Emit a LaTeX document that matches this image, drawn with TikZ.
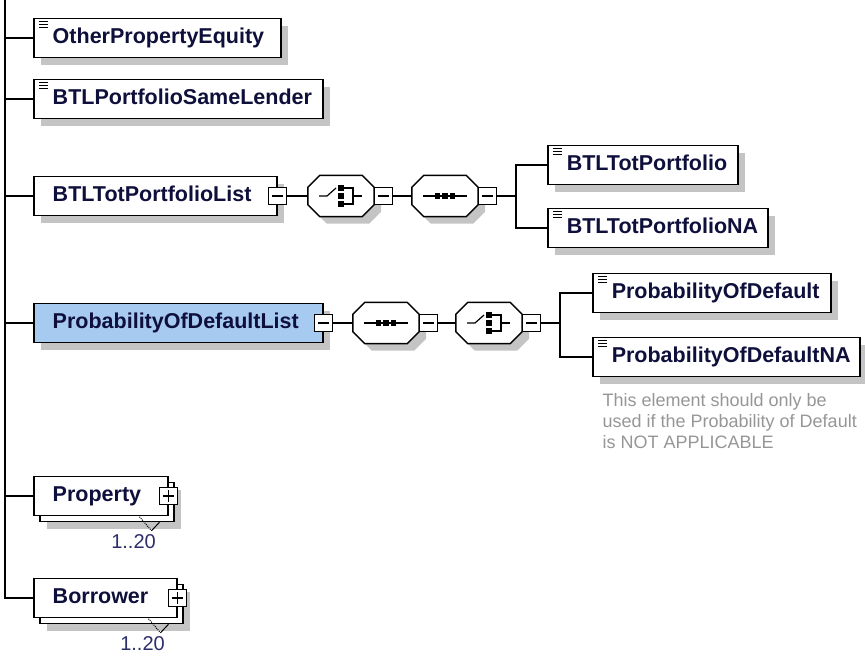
\documentclass[tikz,border=0pt]{standalone}
\usepackage{fontspec}
\setmainfont{Liberation Sans}
\usetikzlibrary{positioning}
\usetikzlibrary{shadows}
\definecolor{navy}{RGB}{15,15,60}
\definecolor{selblue}{RGB}{166,202,240}
\definecolor{occblue}{RGB}{45,45,105}
\definecolor{shadegray}{RGB}{196,196,196}
\definecolor{notegray}{RGB}{150,150,150}
\newcommand{\octpath}[1]{([xshift=12pt]#1.north west) -- ([xshift=-12pt]#1.north east)
	-- ([yshift=-12pt]#1.north east) -- ([yshift=12pt]#1.south east)
	-- ([xshift=-12pt]#1.south east) -- ([xshift=12pt]#1.south west)
	-- ([yshift=12pt]#1.south west) -- ([yshift=-12pt]#1.north west) -- cycle}
\newcommand{\octo}[1]{%
	\fill[shadegray,transform canvas={xshift=7pt,yshift=-7pt}] \octpath{#1};
	\draw[fill=white,line width=1.4pt] \octpath{#1};}
\newcommand{\seqsym}[1]{%
	\begin{scope}[shift={(#1.center)}]
		\draw[line width=1.2pt] (-22,0) -- (22,0);
		\foreach \s in {-7.5,0,7.5} \fill[black] (\s-2.8,-2.8) rectangle (\s+2.8,2.8);
	\end{scope}}
\newcommand{\choicesym}[1]{%
	\begin{scope}[shift={(#1.center)}]
		\draw[line width=1.2pt] (-22,0) -- (-14,0) -- (-5,-8);
		\foreach \s in {-8,0,8} \fill[black] (-2.6,\s-2.6) rectangle (2.6,\s+2.6);
		\draw[line width=1.2pt] (2.6,-8) -- (12,-8) -- (12,8) -- (2.6,8) (12,0) -- (21,0);
	\end{scope}}

\begin{document}
\begin{tikzpicture}[
	x=1pt, y=-1pt, line width=1.3pt,
	shade/.style = {general shadow={draw=none,fill=shadegray,shadow xshift=7pt,shadow yshift=-7pt}},
	box/.style = {draw,fill=white,anchor=west,line width=1.5pt,text=navy,
		font=\fontsize{21.5}{25}\selectfont\bfseries,inner xsep=0pt,inner ysep=0pt,
		text height=25pt,text depth=14pt,text width=#1,align=left,
		execute at begin node=\hspace*{19pt}},
	elem/.style = {box=#1,shade},
	leaf/.style = {elem=#1,path picture={
		\foreach \d in {3,6,9}
			\draw[line width=1pt] ([shift={(5pt,-\d pt)}]path picture bounding box.north west) -- ++(9pt,0pt);}},
	multi/.style = {box=#1,
		general shadow={draw=none,fill=shadegray,shadow xshift=13pt,shadow yshift=-13pt},
		copy shadow={draw=black,fill=white,line width=1.5pt,shadow xshift=6pt,shadow yshift=-6pt}},
	btn/.style = {draw,fill=white,line width=1.2pt,minimum size=17.5pt,inner sep=0pt},
	minus/.style = {btn,path picture={
		\draw[line width=1.1pt] ([xshift=3pt]path picture bounding box.west) -- ([xshift=-3pt]path picture bounding box.east);}},
	plus/.style = {btn,path picture={
		\draw[line width=1.1pt] ([xshift=3pt]path picture bounding box.west) -- ([xshift=-3pt]path picture bounding box.east);
		\draw[line width=1.1pt] ([yshift=3pt]path picture bounding box.south) -- ([yshift=-3pt]path picture bounding box.north);}},
	comp/.style = {minimum width=65pt,minimum height=40pt,inner sep=0pt},
	annot/.style = {text=notegray,font=\fontsize{18}{21}\selectfont,align=left,anchor=north west,inner sep=0pt},
	occurs/.style = {text=occblue,font=\fontsize{20}{24}\selectfont,inner sep=0pt}
	]
	\useasboundingbox (0,0) rectangle (865,662);

	\node[leaf=247pt] (ope) at (33,38) {OtherPropertyEquity};
	\node[leaf=289pt] (bsl) at (33,99) {BTLPortfolioSameLender};

	\node[elem=243pt] (btl) at (33,196) {BTLTotPortfolioList};
	\node[minus] (btlm) at (btl.east) {};
	\node[comp,right=21pt of btlm] (btlc) {};
	\octo{btlc} \choicesym{btlc}
	\node[minus,right=0pt of btlc] (btlcm) {};
	\node[comp,right=19pt of btlcm] (btls) {};
	\octo{btls} \seqsym{btls}
	\node[minus,right=0pt of btls] (btlsm) {};
	\coordinate[right=19pt of btlsm] (btlj);
	\node[leaf=190pt] (tot) at (547,165) {BTLTotPortfolio};
	\node[leaf=220pt] (totna) at (547,228) {BTLTotPortfolioNA};

	\node[elem=289pt,fill=selblue] (pod) at (33,323) {ProbabilityOfDefaultList};
	\node[minus] (podm) at (pod.east) {};
	\node[comp,right=20pt of podm] (pods) {};
	\octo{pods} \seqsym{pods}
	\node[minus,right=0pt of pods] (podsm) {};
	\node[comp,right=18pt of podsm] (podc) {};
	\octo{podc} \choicesym{podc}
	\node[minus,right=0pt of podc] (podcm) {};
	\coordinate[right=19pt of podcm] (podj);
	\node[leaf=238pt] (pd) at (592,293) {ProbabilityOfDefault};
	\node[leaf=267pt] (pdna) at (592,357) {ProbabilityOfDefaultNA};
	\node[annot] (pdnote) at (602,393) {This element should only be\\used if the Probability of Default\\is NOT APPLICABLE};

	\node[multi=134pt] (prop) at (33,496) {Property};
	\node[plus] (propp) at (prop.east) {};
	\node[occurs] (propocc) at ([shift={(-35,25.5)}]prop.south east) {1..20};

	\node[multi=143pt] (borr) at (33,598) {Borrower};
	\node[plus] (borrp) at (borr.east) {};
	\node[occurs] (borrocc) at ([shift={(-35,25.5)}]borr.south east) {1..20};

	\foreach \n in {prop,borr} {
		\draw[line width=1pt,densely dotted] ([shift={(-29,0.5)}]\n.south east) -- ([shift={(-17,14.5)}]\n.south east);
		\draw[line width=1pt] ([shift={(-17,14.5)}]\n.south east) -- ([shift={(-9,6)}]\n.south east);
	}

	\coordinate (trunk) at (5,0);
	\draw (trunk) |- (borr.west);
	\foreach \n in {ope,bsl,btl,pod,prop}
		\draw (trunk |- \n.west) -- (\n.west);

	\draw (btlm) -- (btlc);
	\draw (btlcm) -- (btls);
	\draw (btlsm.east) -- (btlj);
	\draw (tot.west) -| (btlj) |- (totna.west);

	\draw (podm) -- (pods);
	\draw (podsm) -- (podc);
	\draw (podcm.east) -- (podj);
	\draw (pd.west) -| (podj) |- (pdna.west);

\end{tikzpicture}
\end{document}
